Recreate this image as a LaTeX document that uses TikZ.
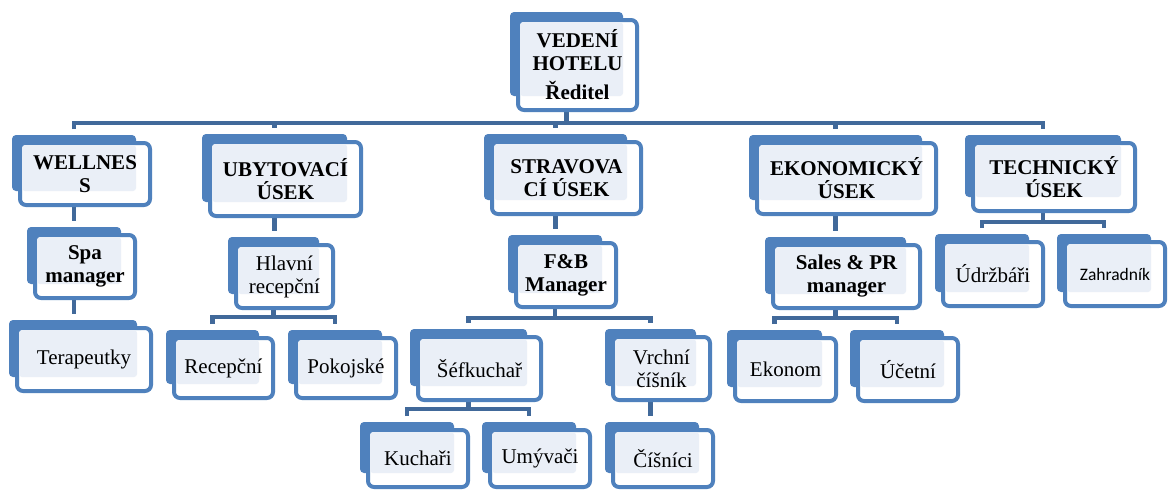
\documentclass[tikz,border=0pt]{standalone}
\usepackage{fontspec}
\setmainfont{Liberation Serif}
\newfontfamily\calibrifont{Carlito}
\usetikzlibrary{backgrounds,calc}
\definecolor{obblue}{HTML}{4F81BD}
\definecolor{oblight}{HTML}{EAEFF7}
\definecolor{obdark}{HTML}{41699A}
\tikzset{
  backbox/.style={fill=obblue,draw=none,rounded corners=4pt,inner sep=0pt,outer sep=0pt},
  frontbox/.style={draw=obblue,line width=4pt,fill=white,rounded corners=6pt,inner sep=0pt,outer sep=0pt},
  lightbox/.style={fill=oblight,rounded corners=3pt},
  lbl/.style={font=\fontsize{21}{23}\selectfont,align=center,inner sep=0pt},
  blbl/.style={font=\fontsize{21}{23}\selectfont\bfseries,align=center,inner sep=0pt},
  slbl/.style={font=\fontsize{17.5}{20}\selectfont\calibrifont,align=center,inner sep=0pt},
  conn/.style={draw=obdark,line width=4.5pt}
}
\newcommand{\obox}[7]{%
  \pgfmathsetmacro\obBW{#4-16-#2}%
  \pgfmathsetmacro\obBH{#5-16-#3}%
  \pgfmathsetmacro\obBX{(#4-16+#2)/2}%
  \pgfmathsetmacro\obBY{(#5-16+#3)/2}%
  \pgfmathsetmacro\obFW{#4-#2-6-4}%
  \pgfmathsetmacro\obFH{#5-#3-6-4}%
  \pgfmathsetmacro\obFX{(#4+#2+6)/2}%
  \pgfmathsetmacro\obFY{(#5+#3+6)/2}%
  \node[backbox,minimum width=\obBW pt,minimum height=\obBH pt] (#1-b) at (\obBX,\obBY) {};
  \node[frontbox,minimum width=\obFW pt,minimum height=\obFH pt] (#1-f) at (\obFX,\obFY) {};
  \fill[lightbox] (#2+10,#3+10) rectangle (#4-16,#5-16);
  \node[#6] (#1) at (\obFX,\obFY) {#7};
}
% vertical single connector: parent, child
\newcommand{\vconn}[2]{\draw[conn] (#1-b.center |- #1-f.south) -- ($(#1-b.center |- #2-b.north)+(0,-6)$);}
\begin{document}
\begin{tikzpicture}[x={(1pt,0)},y={(0,-1pt)}]
\useasboundingbox (0,0) rectangle (1168,491);
% level 1
\obox{top}{510}{12}{639}{112}{blbl}{VEDENÍ\\HOTELU\\[6pt]Ředitel}
% level 2
\obox{wel}{12}{135}{152}{207}{blbl}{WELLNES\\S}
\obox{uby}{202}{134}{363}{218}{blbl}{UBYTOVACÍ\\ÚSEK}
\obox{str}{484}{134}{643}{216}{blbl}{STRAVOVA\\CÍ ÚSEK}
\obox{eko}{749}{135}{938}{216}{blbl}{EKONOMICKÝ\\ÚSEK}
\obox{tec}{965}{135}{1137}{213}{blbl}{TECHNICKÝ\\ÚSEK}
% level 3
\obox{spa}{27}{227}{137}{300}{blbl}{Spa\\manager}
\obox{hla}{228}{237}{335}{310}{lbl}{Hlavní\\recepční}
\obox{fb}{508}{235}{618}{309}{blbl}{F\&B\\Manager}
\obox{sal}{765}{237}{922}{310}{blbl}{Sales \& PR\\manager}
\obox{udr}{935}{234}{1045}{308}{lbl}{Údržbáři}
\obox{zah}{1057}{234}{1167}{308}{slbl}{Zahradník}
% level 4
\obox{ter}{9}{320}{153}{393}{lbl}{Terapeutky}
\obox{rec}{166}{330}{275}{400}{lbl}{Recepční}
\obox{pok}{288}{330}{398}{400}{lbl}{Pokojské}
\obox{sef}{410}{329}{543}{402}{lbl}{Šéfkuchař}
\obox{vrc}{605}{329}{712}{402}{lbl}{Vrchní\\číšník}
\obox{ekn}{727}{330}{838}{403}{lbl}{Ekonom}
\obox{uce}{850}{330}{960}{403}{lbl}{Účetní}
% level 5
\obox{kuc}{360}{422}{470}{489}{lbl}{Kuchaři}
\obox{umy}{482}{422}{592}{489}{lbl}{Umývači}
\obox{cis}{605}{422}{715}{489}{lbl}{Číšníci}
% bus coordinates
\coordinate (busA) at (0,123);
\coordinate (busH) at (0,317);
\coordinate (busF) at (0,318);
\coordinate (busS) at (0,409);
\coordinate (busE) at (0,318);
\coordinate (busT) at (0,222);
\begin{scope}[on background layer]
  \fill[white] (0,0) rectangle (1168,491);
  % top
  \draw[conn] (top-b.center |- top-f.south) -- (top-b.center |- busA);
  \draw[conn] ($(wel-b.north)+(0,-6)$) -- (wel-b.center |- busA) -- (tec-b.center |- busA) -- ($(tec-b.north)+(0,-6)$);
  \foreach \n in {uby,str,eko}
    \draw[conn] (\n-b.center |- busA) -- ($(\n-b.north)+(0,-6)$);
  % single lines
  \vconn{wel}{spa}
  \vconn{spa}{ter}
  \vconn{uby}{hla}
  \vconn{str}{fb}
  \vconn{eko}{sal}
  \vconn{vrc}{cis}
  % hla group
  \draw[conn] (hla-b.center |- hla-f.south) -- (hla-b.center |- busH);
  \draw[conn] ($(rec-b.north)+(0,-6)$) -- (rec-b.center |- busH) -- (pok-b.center |- busH) -- ($(pok-b.north)+(0,-6)$);
  % fb group
  \draw[conn] (fb-b.center |- fb-f.south) -- (fb-b.center |- busF);
  \draw[conn] ($(sef-b.north)+(0,-6)$) -- (sef-b.center |- busF) -- (vrc-b.center |- busF) -- ($(vrc-b.north)+(0,-6)$);
  % sef group
  \draw[conn] (sef-b.center |- sef-f.south) -- (sef-b.center |- busS);
  \draw[conn] ($(kuc-b.north)+(0,-6)$) -- (kuc-b.center |- busS) -- (umy-b.center |- busS) -- ($(umy-b.north)+(0,-6)$);
  % sal group
  \draw[conn] (sal-b.center |- sal-f.south) -- (sal-b.center |- busE);
  \draw[conn] ($(ekn-b.north)+(0,-6)$) -- (ekn-b.center |- busE) -- (uce-b.center |- busE) -- ($(uce-b.north)+(0,-6)$);
  % tec group
  \draw[conn] (tec-b.center |- tec-f.south) -- (tec-b.center |- busT);
  \draw[conn] ($(udr-b.north)+(0,-6)$) -- (udr-b.center |- busT) -- (zah-b.center |- busT) -- ($(zah-b.north)+(0,-6)$);
\end{scope}
\end{tikzpicture}
\end{document}
